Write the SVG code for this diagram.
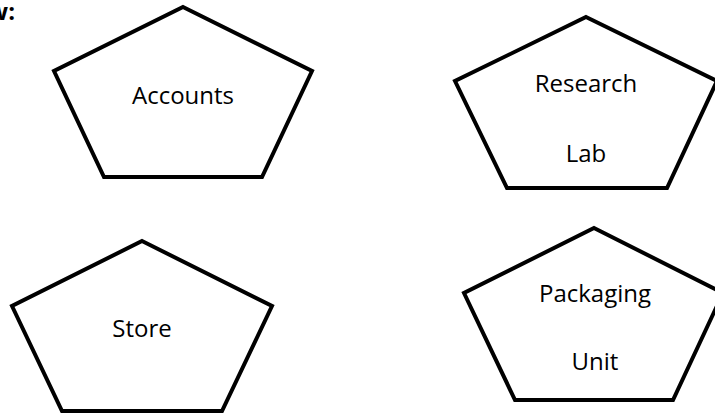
<svg xmlns="http://www.w3.org/2000/svg" width="715" height="416" viewBox="0 0 715 416">
  <style>
    .shape { fill: #ffffff; stroke: #000000; stroke-width: 4; stroke-linejoin: miter; }
    .label { font-family: "Open Sans", "Liberation Sans", sans-serif; font-size: 24px; fill: #000000; text-anchor: middle; }
    .head { font-family: "Open Sans", "Liberation Sans", sans-serif; font-size: 24px; font-weight: bold; fill: #000000; text-anchor: end; }
  </style>
  <rect width="715" height="416" fill="#ffffff"/>
  <text class="head" x="15" y="20">w:</text>
  <g id="accounts">
    <polygon class="shape" points="183,7 312,71 262,177 104,177 54,71"/>
    <text class="label" x="183" y="104">Accounts</text>
  </g>
  <g id="research-lab">
    <polygon class="shape" points="586,17 717,81 667,188 507,188 455,81"/>
    <text class="label" x="586" y="92">Research</text>
    <text class="label" x="586" y="162">Lab</text>
  </g>
  <g id="store">
    <polygon class="shape" points="142,241 272,306 222,411 62,411 12,306"/>
    <text class="label" x="142" y="337">Store</text>
  </g>
  <g id="packaging-unit">
    <polygon class="shape" points="594,228 723,293 673,400 515,400 464,293"/>
    <text class="label" x="595" y="302">Packaging</text>
    <text class="label" x="595" y="370">Unit</text>
  </g>
  <g id="connectors"></g>
</svg>
